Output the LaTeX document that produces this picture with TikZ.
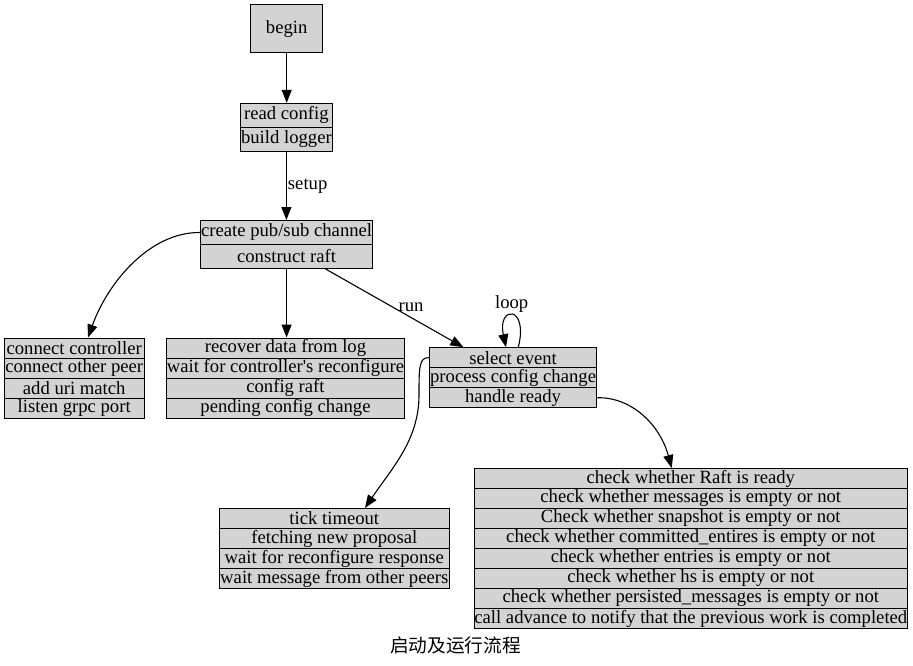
\documentclass[tikz,border=0pt]{standalone}
\usepackage{fontspec}
\setmainfont{Liberation Serif}
\newfontfamily\cjkfont{Noto Sans CJK SC}
\usetikzlibrary{arrows.meta}
\definecolor{lg}{HTML}{D3D3D3}
\begin{document}
\begin{tikzpicture}[x=1pt,y=-1pt,
  rowbox/.style={draw=black, fill=lg, line width=1pt, inner sep=0pt, font=\fontsize{18.67}{22}\selectfont},
  edge/.style={draw=black, line width=1.1pt, -{Triangle[length=13pt,width=10pt]}},
  elabel/.style={font=\fontsize{18.67}{22}\selectfont, inner sep=1pt}]
\useasboundingbox[fill=white] (0,0) rectangle (913,665);

% begin
\node[rowbox, minimum width=72, minimum height=48] (begin) at (286.7,28.7) {begin};

% read config / build logger
\node[rowbox, minimum width=91.3, minimum height=24] (rc1) at (286.4,115.3) {read config};
\node[rowbox, minimum width=91.3, minimum height=24] (rc2) at (286.4,139.3) {build logger};

% create pub/sub channel / construct raft
\node[rowbox, minimum width=172.2, minimum height=24] (cp1) at (286.6,232.5) {create pub/sub channel};
\node[rowbox, minimum width=172.2, minimum height=24] (cp2) at (286.6,256.5) {construct raft};

% left list
\node[rowbox, minimum width=139.7, minimum height=20] (lc1) at (74.2,348) {connect controller};
\node[rowbox, minimum width=139.7, minimum height=20] (lc2) at (74.2,368) {connect other peer};
\node[rowbox, minimum width=139.7, minimum height=20] (lc3) at (74.2,388) {add uri match};
\node[rowbox, minimum width=139.7, minimum height=20] (lc4) at (74.2,408) {listen grpc port};

% middle list
\node[rowbox, minimum width=237.6, minimum height=20] (md1) at (285.5,348) {recover data from log};
\node[rowbox, minimum width=237.6, minimum height=20] (md2) at (285.5,368) {wait for controller\textquotesingle s reconfigure};
\node[rowbox, minimum width=237.6, minimum height=20] (md3) at (285.5,388) {config raft};
\node[rowbox, minimum width=237.6, minimum height=20] (md4) at (285.5,408) {pending config change};

% select event list
\node[rowbox, minimum width=167.3, minimum height=20] (se1) at (513.1,357.7) {select event};
\node[rowbox, minimum width=167.3, minimum height=20] (se2) at (513.1,377.7) {process config change};
\node[rowbox, minimum width=167.3, minimum height=20] (se3) at (513.1,397.7) {handle ready};

% tick list
\node[rowbox, minimum width=229.5, minimum height=20] (tk1) at (334.3,518.5) {tick timeout};
\node[rowbox, minimum width=229.5, minimum height=20] (tk2) at (334.3,538.5) {fetching new proposal};
\node[rowbox, minimum width=229.5, minimum height=20] (tk3) at (334.3,558.5) {wait for reconfigure response};
\node[rowbox, minimum width=229.5, minimum height=20] (tk4) at (334.3,578.5) {wait message from other peers};

% check list
\node[rowbox, minimum width=433.5, minimum height=20] (ck1) at (690.8,478.5) {check whether Raft is ready};
\node[rowbox, minimum width=433.5, minimum height=20] (ck2) at (690.8,498.5) {check whether messages is empty or not};
\node[rowbox, minimum width=433.5, minimum height=20] (ck3) at (690.8,518.5) {Check whether snapshot is empty or not};
\node[rowbox, minimum width=433.5, minimum height=20] (ck4) at (690.8,538.5) {check whether committed\_entires is empty or not};
\node[rowbox, minimum width=433.5, minimum height=20] (ck5) at (690.8,558.5) {check whether entries is empty or not};
\node[rowbox, minimum width=433.5, minimum height=20] (ck6) at (690.8,578.5) {check whether hs is empty or not};
\node[rowbox, minimum width=433.5, minimum height=20] (ck7) at (690.8,598.5) {check whether persisted\_messages is empty or not};
\node[rowbox, minimum width=433.5, minimum height=20] (ck8) at (690.8,618.5) {call advance to notify that the previous work is completed};

% title
\node[font=\cjkfont\fontsize{18.67}{22}\selectfont, inner sep=0pt] (title) at (455.5,645) {启动及运行流程};

% edges
\draw[edge] (begin.south) -- (begin.south |- rc1.north);
\draw[edge] (rc2.south) -- node[elabel, right] {setup} (rc2.south |- cp1.north);
\draw[edge] (cp1.west) .. controls (150,232) and (108,282) .. ([xshift=13.8pt]lc1.north);
\draw[edge] (cp2.south) -- (cp2.south |- md1.north);
\draw[edge] ([xshift=39pt]cp2.south) -- node[elabel, pos=0.62, anchor=south, yshift=4pt] {run} ([xshift=-49.8pt]se1.north);
\draw[edge] ([xshift=5.2pt]se1.north) .. controls (529,305) and (497,305) .. ([xshift=-7.1pt]se1.north);
\node[elabel] (looplbl) at (511.7,304) {loop};
\draw[edge] (se1.west) .. controls (419,357) and (419,368) .. (419,395)
  .. controls (419,440) and (392,468) .. ([xshift=30.7pt]tk1.north);
\draw[edge] (se3.east) .. controls (632,397) and (660,425) .. ([xshift=-19.1pt]ck1.north);
\end{tikzpicture}
\end{document}
